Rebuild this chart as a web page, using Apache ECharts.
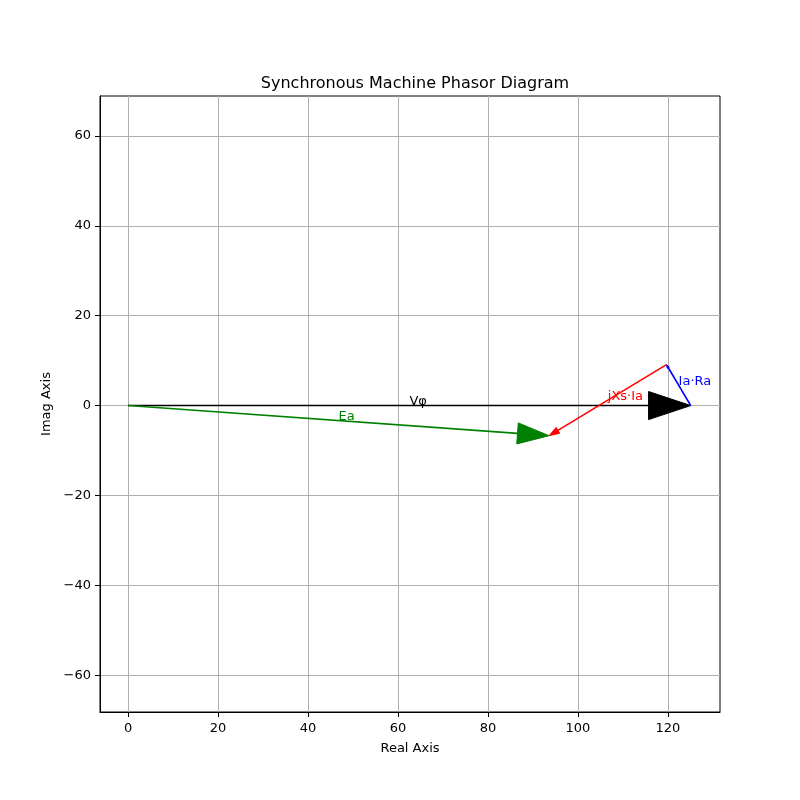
<!DOCTYPE html>
<html>
<head>
<meta charset="utf-8">
<script src="https://cdn.jsdelivr.net/npm/echarts@6/dist/echarts.min.js"></script>
<style>
  html, body { margin: 0; padding: 0; background: #fff; }
  #chart { width: 800px; height: 800px; }
</style>
</head>
<body>
<div id="chart"></div>
<script>
// phasors (start -> tip, in axis units)
var phasorNames = ['Vφ', 'Ia·Ra', 'jXs·Ia', 'Ea'];
var startX = [0, 125.1, 119.7, 0];
var startY = [0, 0, 9.1, 0];
var endX = [125.1, 119.7, 93.6, 93.6];
var endY = [0, 9.1, -6.7, -6.7];
var phasorColors = ['#000000', '#0000ff', '#ff0000', '#008000'];

// axis extents and tick labels
var xRange = [-6.25, 131.6];
var yRange = [-68.2, 68.9];
var xTicks = [0, 20, 40, 60, 80, 100, 120];
var yTicks = [-60, -40, -20, 0, 20, 40, 60];

var font = 'DejaVu Sans';

function tickFmt(v) {
  if (Math.abs(v % 20) > 1e-6) return '';
  return v < 0 ? '\u2212' + Math.abs(v) : String(v);
}

var data = [];
for (var i = 0; i < phasorNames.length; i++) {
  data.push([startX[i], startY[i], endX[i], endY[i], i]);
}

var myChart = echarts.init(document.getElementById('chart'));

var option = {
  backgroundColor: '#fff',
  animation: false,
  title: {
    text: 'Synchronous Machine Phasor Diagram',
    left: 410,
    textAlign: 'center',
    top: 71,
    textStyle: { fontFamily: font, fontSize: 16, fontWeight: 'normal', color: '#000' }
  },
  grid: {
    left: 100, right: 80, top: 96, bottom: 88,
    show: true, borderColor: '#000', borderWidth: 1
  },
  xAxis: {
    type: 'value',
    min: xRange[0], max: xRange[1],
    splitNumber: 7,
    name: 'Real Axis',
    nameLocation: 'middle',
    nameGap: 30,
    nameTextStyle: { fontFamily: font, fontSize: 13, color: '#000' },
    axisLine: { show: true, onZero: false, lineStyle: { color: '#000', width: 1 } },
    axisTick: { show: true, inside: false, length: 5, customValues: xTicks, lineStyle: { color: '#000' } },
    axisLabel: { fontFamily: font, fontSize: 13, color: '#000', margin: 10, customValues: xTicks, formatter: tickFmt },
    splitLine: { show: true, lineStyle: { color: '#b0b0b0', width: 1 } }
  },
  yAxis: {
    type: 'value',
    min: yRange[0], max: yRange[1],
    splitNumber: 7,
    name: 'Imag Axis',
    nameLocation: 'middle',
    nameGap: 46,
    nameTextStyle: { fontFamily: font, fontSize: 13, color: '#000' },
    axisLine: { show: true, onZero: false, lineStyle: { color: '#000', width: 1 } },
    axisTick: { show: true, inside: false, length: 5, customValues: yTicks, lineStyle: { color: '#000' } },
    axisLabel: { fontFamily: font, fontSize: 13, color: '#000', margin: 9, customValues: yTicks, formatter: tickFmt },
    splitLine: { show: true, lineStyle: { color: '#b0b0b0', width: 1 } }
  },
  series: [{
    type: 'custom',
    data: data,
    encode: { x: [0, 2], y: [1, 3] },
    renderItem: function (params, api) {
      var x0 = api.value(0), y0 = api.value(1);
      var x1 = api.value(2), y1 = api.value(3);
      var idx = api.value(4);
      var dx = x1 - x0, dy = y1 - y0;
      var mag = Math.sqrt(dx * dx + dy * dy);
      var ux = dx / mag, uy = dy / mag;
      var hl = 0.075 * mag, hw = 0.05 * mag;
      var bx = x1 - ux * hl, by = y1 - uy * hl;
      var p0 = api.coord([x0, y0]);
      var pTip = api.coord([x1, y1]);
      var pL = api.coord([bx - uy * hw / 2, by + ux * hw / 2]);
      var pR = api.coord([bx + uy * hw / 2, by - ux * hw / 2]);
      var pB = api.coord([bx, by]);
      var pMid = api.coord([(x0 + x1) / 2, (y0 + y1) / 2]);
      var color = phasorColors[idx];
      return {
        type: 'group',
        children: [{
          type: 'line',
          shape: { x1: p0[0], y1: p0[1], x2: pB[0], y2: pB[1] },
          style: { stroke: color, lineWidth: 1.6 }
        }, {
          type: 'polygon',
          shape: { points: [pTip, pL, pR] },
          style: { fill: color, stroke: color, lineWidth: 1 }
        }, {
          type: 'text',
          style: {
            x: pMid[0], y: pMid[1] + 3,
            text: phasorNames[idx],
            fill: color,
            font: '13px "DejaVu Sans"',
            align: 'left',
            verticalAlign: 'bottom'
          }
        }]
      };
    }
  }]
};

myChart.setOption(option);
</script>
</body>
</html>
